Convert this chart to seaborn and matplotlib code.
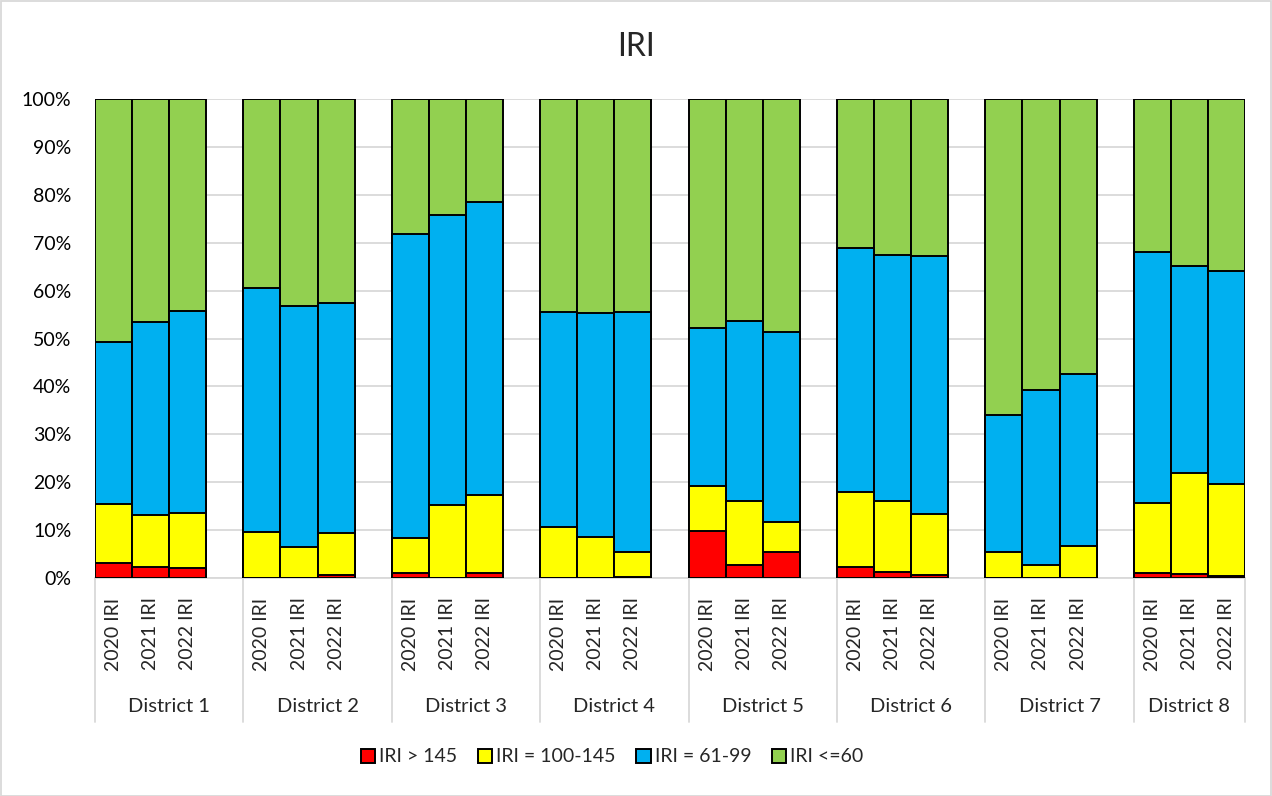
import numpy as np
import pandas as pd
import matplotlib
matplotlib.use("Agg")
import matplotlib.pyplot as plt
import matplotlib.transforms as mtransforms
from matplotlib.patches import Rectangle, Patch
import seaborn as sns

# data (shares of each IRI class)
districts = ['District 1', 'District 2', 'District 3', 'District 4',
             'District 5', 'District 6', 'District 7', 'District 8']
years = ['2020 IRI', '2021 IRI', '2022 IRI']
classes = ['IRI > 145', 'IRI = 100-145', 'IRI = 61-99', 'IRI <=60']
colors = ['#FF0000', '#FFFF00', '#00B0F0', '#92D050']

red = [3.1, 2.4, 2.0,  0.0, 0.0, 0.6,  1.0, 0.0, 1.0,  0.0, 0.0, 0.3,
       9.8, 2.8, 5.5,  2.4, 1.2, 0.7,  0.0, 0.0, 0.0,  1.0, 0.8, 0.5]
yellow = [12.4, 10.8, 11.6,  9.5, 6.5, 8.7,  7.4, 15.3, 16.3,  10.7, 8.6, 5.1,
          9.4, 13.3, 6.1,  15.5, 14.9, 12.7,  5.5, 2.8, 6.7,  14.6, 21.2, 19.1]
blue = [33.8, 40.2, 42.1,  51.0, 50.3, 48.1,  63.4, 60.5, 61.2,  44.8, 46.7, 50.1,
        33.0, 37.6, 39.8,  51.0, 51.3, 53.8,  28.5, 36.4, 35.9,  52.5, 43.1, 44.5]
green = [50.7, 46.6, 44.3,  39.5, 43.2, 42.6,  28.2, 24.2, 21.5,  44.5, 44.7, 44.5,
         47.8, 46.3, 48.6,  31.1, 32.6, 32.8,  66.0, 60.8, 57.4,  31.9, 34.9, 35.9]

# build long table with slot names (blank slot between districts)
rows = []
order = []
for g, d in enumerate(districts):
    for j, y in enumerate(years):
        k = g * 3 + j
        name = f'{d}|{y}'
        order.append(name)
        rows.append({'slot': name, 'red': red[k], 'yellow': yellow[k],
                     'blue': blue[k], 'green': green[k]})
    if g < len(districts) - 1:
        order.append(f'gap{g}')
df = pd.DataFrame(rows)
tot = df[['red', 'yellow', 'blue', 'green']].sum(axis=1)
for c in ['red', 'yellow', 'blue', 'green']:
    df[c] = df[c] / tot
df['c1'] = df['red']
df['c2'] = df['c1'] + df['yellow']
df['c3'] = df['c2'] + df['blue']
df['c4'] = df['c3'] + df['green']

sns.set_theme(style='white')
plt.rcParams['font.family'] = ['Lato', 'DejaVu Sans']

fig = plt.figure(figsize=(12.72, 7.96), dpi=100)
W, H = 1272, 796
ax = fig.add_axes([95 / W, 1 - 578 / H, 1150 / W, 479 / H])

# draw from the top layer down so each segment keeps its black edge
for col, color in zip(['c4', 'c3', 'c2', 'c1'], colors[::-1]):
    sns.barplot(data=df, x='slot', y=col, order=order, color=color,
                width=1.0, edgecolor='black', linewidth=1.4, saturation=1,
                ax=ax, zorder=3)

ax.set_xlim(-0.5, len(order) - 0.5)
ax.set_ylim(0, 1)
ax.set_yticks(np.arange(0, 1.01, 0.1))
ax.set_yticklabels([f'{int(round(v * 100))}%' for v in np.arange(0, 1.01, 0.1)],
                   fontsize=14, color='#000000')
ax.yaxis.grid(True, color='#d9d9d9', linewidth=1.3, zorder=0)
ax.tick_params(axis='y', length=0, pad=17)

pos = [i for i, n in enumerate(order) if not n.startswith('gap')]
ax.set_xticks(pos)
ax.set_xticklabels([n.split('|')[1] for n in order if not n.startswith('gap')],
                   rotation=90, fontsize=14, va='top', ha='center')
ax.tick_params(axis='x', length=0, pad=14)
ax.set_xlabel('')
ax.set_ylabel('')
for s in ['top', 'right', 'left']:
    ax.spines[s].set_visible(False)
ax.spines['bottom'].set_color('#d9d9d9')
ax.spines['bottom'].set_linewidth(1.3)

# category separators and district labels
tr = mtransforms.blended_transform_factory(ax.transData, ax.transAxes)
seps = [-0.5] + [4 * g + 3.5 for g in range(len(districts) - 1)] + [len(order) - 0.5]
for x in seps:
    ax.plot([x, x], [0, -(722 - 578) / 479], color='#d9d9d9', lw=1.3,
            transform=tr, clip_on=False)
for g, d in enumerate(districts):
    xc = (seps[g] + seps[g + 1]) / 2
    ax.text(xc, -(706 - 578) / 479, d, transform=tr, ha='center',
            va='center', fontsize=14.5)

fig.text(636 / W, 1 - 47 / H, 'IRI', fontsize=23, ha='center', va='center')

handles = [Patch(facecolor=c, edgecolor='black', linewidth=1.4) for c in colors]
fig.legend(handles, classes, loc='center', bbox_to_anchor=(612 / W, 1 - 757 / H),
           ncol=4, frameon=False, fontsize=14, handlelength=0.75,
           handleheight=0.75, handletextpad=0.2, columnspacing=1.05)

fig.patches.append(Rectangle((0.5 / W, 0.5 / H), 1 - 1.5 / W, 1 - 1.5 / H,
                             transform=fig.transFigure, fill=False,
                             edgecolor='#d9d9d9', linewidth=1.3))

fig.savefig('out.png', dpi=100)
